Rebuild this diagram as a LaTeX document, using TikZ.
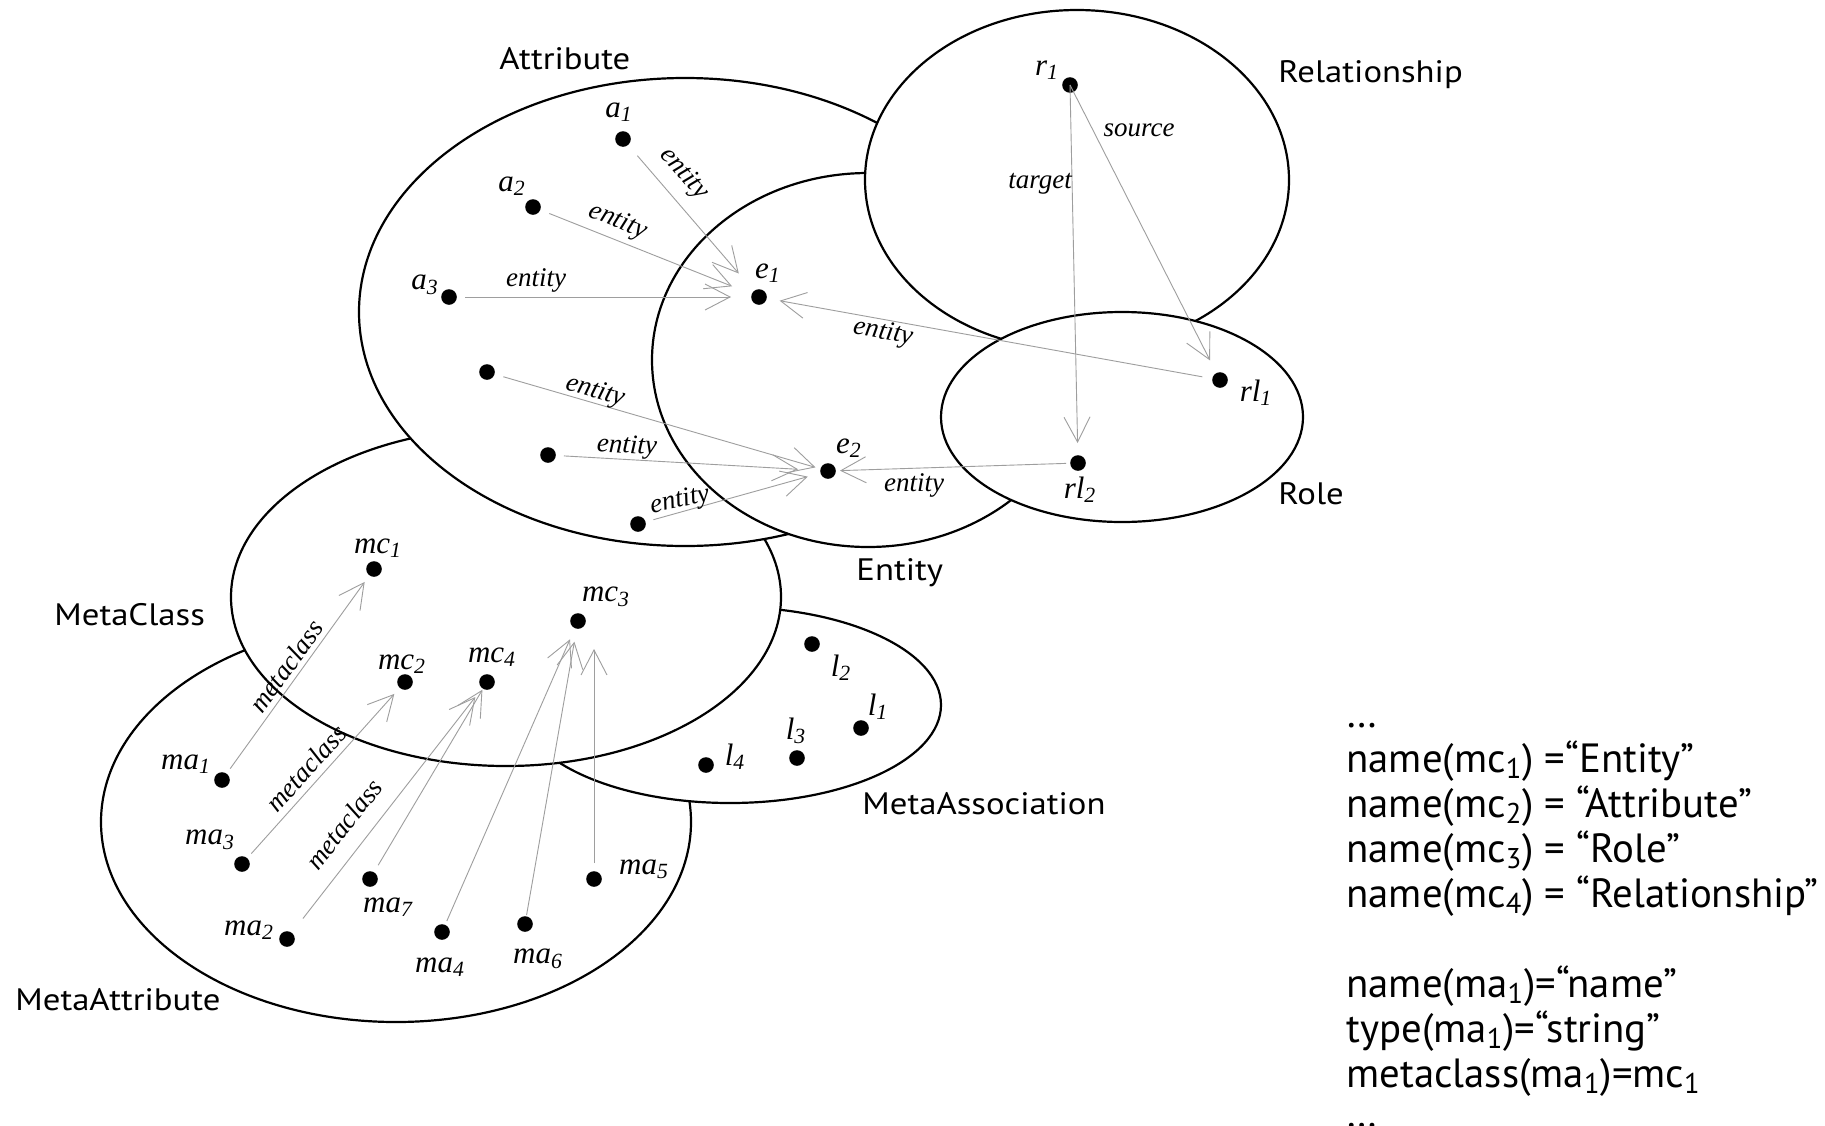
\documentclass[tikz,border=0pt]{standalone}
\usepackage{fontspec}
\setmainfont{Liberation Serif}
\newfontfamily\setfont[FakeStretch=1.12]{PT Sans}
\newfontfamily\notefont{PT Sans}
\usetikzlibrary{shapes.geometric,arrows.meta}

\begin{document}
\begin{tikzpicture}[x=0.5pt,y=-0.5pt,
  setshape/.style={draw, ellipse, fill=white, line width=1.1pt, inner sep=0pt, outer sep=0pt},
  dot/.style={circle, fill=black, inner sep=0pt, minimum size=7.8pt},
  elem/.style={font=\fontsize{15.5}{18}\selectfont\itshape, inner sep=0pt},
  rel/.style={font=\fontsize{13.5}{16}\selectfont\itshape, inner sep=0pt},
  setname/.style={font=\setfont\fontsize{15.5}{18}\selectfont, anchor=base west, inner sep=0pt},
  note/.style={font=\notefont\fontsize{20.4}{24}\selectfont, anchor=base west, inner sep=0pt},
  link/.style={draw=black!38, line width=0.45pt, -{Straight Barb[length=12.5pt,width=13pt]}},
]
\useasboundingbox (0,0) rectangle (1825,1125);

% sets, back to front
\node[setshape, minimum width=295pt, minimum height=200pt] (MetaAttribute) at (396,822) {};
\node[setshape, minimum width=211pt, minimum height=98pt]  (MetaAssociation) at (730,705) {};
\node[setshape, minimum width=275pt, minimum height=169pt] (MetaClass) at (506,597) {};
\node[setshape, minimum width=326pt, minimum height=234pt] (Attribute) at (685,312) {};
\node[setshape, minimum width=216pt, minimum height=187pt] (Entity) at (868,360) {};
\node[setshape, minimum width=212pt, minimum height=170pt] (Relationship) at (1077,180) {};
\node[setshape, minimum width=181pt, minimum height=105pt] (Role) at (1122,417) {};

% set names
\node[setname] (n-attr) at (499,69) {Attribute};
\node[setname] (n-rel)  at (1278,82) {Relationship};
\node[setname] (n-role) at (1278,504) {Role};
\node[setname] (n-ent)  at (856,580) {Entity};
\node[setname] (n-mc)   at (54,625) {MetaClass};
\node[setname] (n-ma)   at (15,1010) {MetaAttribute};
\node[setname] (n-mas)  at (862,814) {MetaAssociation};

% elements
\node[dot] (a1) at (623,139) {};
\node[dot] (a2) at (533,207) {};
\node[dot] (a3) at (449,297) {};
\node[dot] (a4) at (487,372) {};
\node[dot] (a5) at (548,455) {};
\node[dot] (a6) at (638,524) {};
\node[dot] (e1) at (759,297) {};
\node[dot] (e2) at (828,471) {};
\node[dot] (r1) at (1070,85) {};
\node[dot] (rl1) at (1220,380) {};
\node[dot] (rl2) at (1078,463) {};
\node[dot] (mc1) at (374,569) {};
\node[dot] (mc2) at (405,682) {};
\node[dot] (mc3) at (578,621) {};
\node[dot] (mc4) at (487,682) {};
\node[dot] (ma1) at (222,780) {};
\node[dot] (ma2) at (287,939) {};
\node[dot] (ma3) at (242,864) {};
\node[dot] (ma4) at (442,932) {};
\node[dot] (ma5) at (594,879) {};
\node[dot] (ma6) at (525,924) {};
\node[dot] (ma7) at (370,879) {};
\node[dot] (l1) at (861,728) {};
\node[dot] (l2) at (812,644) {};
\node[dot] (l3) at (797,758) {};
\node[dot] (l4) at (706,765) {};

% element names
\node[elem] (t-a1) at (619,112) {a\textsubscript{1}};
\node[elem] (t-a2) at (512,186) {a\textsubscript{2}};
\node[elem] (t-a3) at (425,285) {a\textsubscript{3}};
\node[elem] (t-e1) at (768,273) {e\textsubscript{1}};
\node[elem] (t-e2) at (849,448) {e\textsubscript{2}};
\node[elem] (t-r1) at (1047,70) {r\textsubscript{1}};
\node[elem] (t-rl1) at (1256,393) {rl\textsubscript{1}};
\node[elem] (t-rl2) at (1080,490) {rl\textsubscript{2}};
\node[elem] (t-mc1) at (378,548) {mc\textsubscript{1}};
\node[elem] (t-mc2) at (402,664) {mc\textsubscript{2}};
\node[elem] (t-mc3) at (606,597) {mc\textsubscript{3}};
\node[elem] (t-mc4) at (492,657) {mc\textsubscript{4}};
\node[elem] (t-ma1) at (186,764) {ma\textsubscript{1}};
\node[elem] (t-ma2) at (249,930) {ma\textsubscript{2}};
\node[elem] (t-ma3) at (210,840) {ma\textsubscript{3}};
\node[elem] (t-ma4) at (440,967) {ma\textsubscript{4}};
\node[elem] (t-ma5) at (644,869) {ma\textsubscript{5}};
\node[elem] (t-ma6) at (538,959) {ma\textsubscript{6}};
\node[elem] (t-ma7) at (388,907) {ma\textsubscript{7}};
\node[elem] (t-l1) at (878,707) {l\textsubscript{1}};
\node[elem] (t-l2) at (841,668) {l\textsubscript{2}};
\node[elem] (t-l3) at (796,731) {l\textsubscript{3}};
\node[elem] (t-l4) at (735,757) {l\textsubscript{4}};

% entity links
\draw[link, shorten <=11pt,   shorten >=15.5pt] (a1.center) -- (e1.center);
\draw[link, shorten <=8.75pt, shorten >=14.5pt] (a2.center) -- (e1.center);
\draw[link, shorten <=8pt,    shorten >=14pt]   (a3.center) -- (e1.center);
\draw[link, shorten <=8.5pt,  shorten >=6.5pt]  (a4.center) -- (e2.center);
\draw[link, shorten <=8pt,    shorten >=15pt]   (a5.center) -- (e2.center);
\draw[link, shorten <=8pt,    shorten >=10.5pt] (a6.center) -- (e2.center);
\draw[link, shorten <=9pt,    shorten >=10.5pt] (rl1.center) -- (e1.center);
\draw[link, shorten <=6pt,    shorten >=6pt]    (rl2.center) -- (e2.center);
% source / target
\draw[link, shorten >=10pt] (r1.center) -- (rl2.center);
\draw[link, shorten >=11pt] (r1.center) -- (rl1.center);
% metaclass links
\draw[link, shorten <=7pt,   shorten >=8pt]    (ma1.center) -- (mc1.center);
\draw[link, shorten <=7pt,   shorten >=8pt]    (ma3.center) -- (mc2.center);
\draw[link, shorten <=13pt,  shorten >=9.5pt]  (ma2.center) -- (mc4.center);
\draw[link, shorten <=8pt,   shorten >=4.5pt]  (ma7.center) -- (mc4.center);
\draw[link, shorten <=6pt,   shorten >=10pt]   (ma4.center) -- (mc3.center);
\draw[link, shorten <=4.5pt, shorten >=10.5pt] (ma6.center) -- (mc3.center);
\draw[link, shorten <=8pt,   shorten >=14pt]   (ma5.center) -- (ma5.center |- mc3.center);

% link names
\node[rel, rotate=-49] (x1) at (684,174) {entity};
\node[rel, rotate=-22] (x2) at (618,222) {entity};
\node[rel]             (x3) at (536,280) {entity};
\node[rel, rotate=-16] (x4) at (595,392) {entity};
\node[rel, rotate=-3]  (x5) at (627,447) {entity};
\node[rel, rotate=12]  (x6) at (680,501) {entity};
\node[rel, rotate=-10] (x7) at (883,333) {entity};
\node[rel]             (x8) at (914,485) {entity};
\node[rel] (x9)  at (1139,130) {source};
\node[rel] (x10) at (1040,184) {target};
\node[rel, rotate=54] (x11) at (286,666) {metaclass};
\node[rel, rotate=48] (x12) at (306,768) {metaclass};
\node[rel, rotate=52] (x13) at (344,824) {metaclass};

% definitions
\node[note] (d0) at (1346,727)  {…};
\node[note] (d1) at (1346,772)  {name(mc\textsubscript{1}) =“Entity”};
\node[note] (d2) at (1346,817)  {name(mc\textsubscript{2}) = “Attribute”};
\node[note] (d3) at (1346,862)  {name(mc\textsubscript{3}) = “Role”};
\node[note] (d4) at (1346,907)  {name(mc\textsubscript{4}) = “Relationship”};
\node[note] (d5) at (1346,997)  {name(ma\textsubscript{1})=“name”};
\node[note] (d6) at (1346,1042) {type(ma\textsubscript{1})=“string”};
\node[note] (d7) at (1346,1087) {metaclass(ma\textsubscript{1})=mc\textsubscript{1}};
\node[note] (d8) at (1346,1127) {…};
\end{tikzpicture}
\end{document}
